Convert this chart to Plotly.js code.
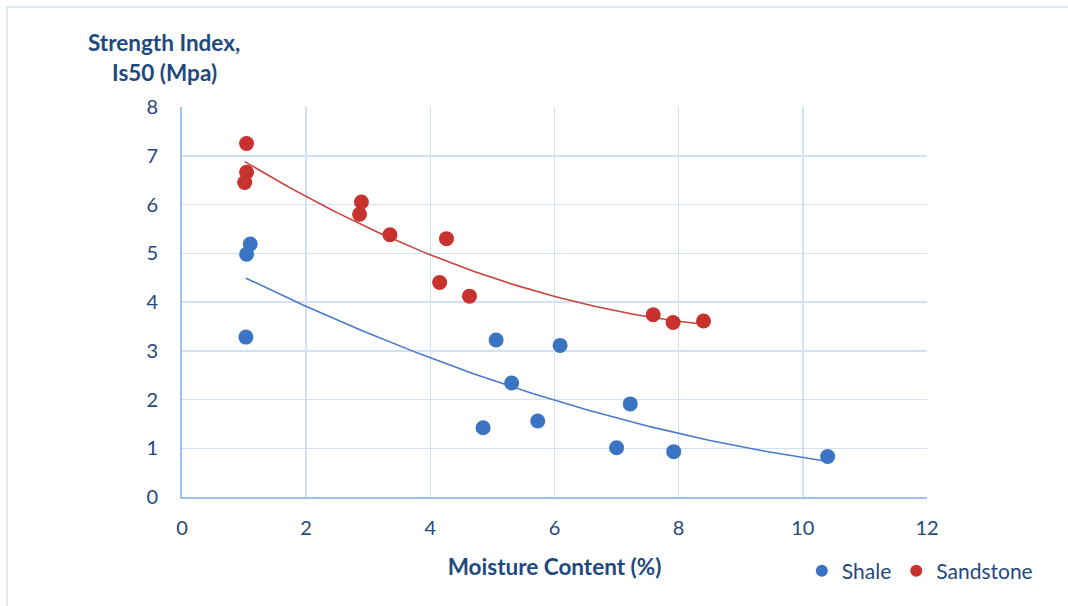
<!DOCTYPE html>
<html>
<head>
<meta charset="utf-8">
<script src="https://cdn.plot.ly/plotly-3.0.1.min.js"></script>
<style>
  html, body { margin: 0; padding: 0; background: #ffffff; }
  #chart { width: 1068px; height: 606px; }
</style>
</head>
<body>
<div id="chart"></div>
<script>
// ---- Data ----
var shaleX = [1.10, 1.04, 1.03, 5.06, 5.31, 4.85, 5.73, 6.09, 7.22, 7.00, 7.92, 10.40];
var shaleY = [5.19, 4.98, 3.28, 3.22, 2.34, 1.42, 1.56, 3.11, 1.91, 1.01, 0.93, 0.83];

var sandX = [1.04, 1.04, 1.01, 2.89, 2.86, 3.35, 4.26, 4.15, 4.63, 7.59, 7.91, 8.40];
var sandY = [7.25, 6.66, 6.45, 6.05, 5.80, 5.38, 5.30, 4.40, 4.12, 3.74, 3.58, 3.61];

var seriesNames = ['Shale', 'Sandstone'];
var xTicks = [0, 2, 4, 6, 8, 10, 12];
var yTicks = [0, 1, 2, 3, 4, 5, 6, 7, 8];

// ---- Quadratic least-squares trendline computed from the data ----
function polyFit2(xs, ys) {
  var n = xs.length, s = [0,0,0,0,0], t = [0,0,0];
  for (var i = 0; i < n; i++) {
    var x = xs[i], y = ys[i], p = 1;
    for (var k = 0; k < 5; k++) { s[k] += p; if (k < 3) t[k] += p * y; p *= x; }
  }
  var A = [[s[0], s[1], s[2], t[0]], [s[1], s[2], s[3], t[1]], [s[2], s[3], s[4], t[2]]];
  for (var c = 0; c < 3; c++) {
    var piv = c;
    for (var r = c + 1; r < 3; r++) if (Math.abs(A[r][c]) > Math.abs(A[piv][c])) piv = r;
    var tmp = A[c]; A[c] = A[piv]; A[piv] = tmp;
    for (var r2 = 0; r2 < 3; r2++) {
      if (r2 === c) continue;
      var f = A[r2][c] / A[c][c];
      for (var k2 = c; k2 < 4; k2++) A[r2][k2] -= f * A[c][k2];
    }
  }
  return [A[0][3] / A[0][0], A[1][3] / A[1][1], A[2][3] / A[2][2]];
}
function trend(xs, ys) {
  var c = polyFit2(xs, ys);
  var lo = Math.min.apply(null, xs), hi = Math.max.apply(null, xs);
  var tx = [], ty = [];
  for (var i = 0; i <= 100; i++) {
    var x = lo + (hi - lo) * i / 100;
    tx.push(x); ty.push(c[0] + c[1] * x + c[2] * x * x);
  }
  return {x: tx, y: ty};
}
var shaleT = trend(shaleX, shaleY);
var sandT = trend(sandX, sandY);

var blue = '#3A74C2', red = '#C7322F';
var textColor = '#1F497D';
var font = 'Lato, "Open Sans", sans-serif';

var traces = [
  {x: shaleT.x, y: shaleT.y, mode: 'lines', line: {color: '#4A7BC8', width: 1.6}, showlegend: false, hoverinfo: 'skip'},
  {x: sandT.x, y: sandT.y, mode: 'lines', line: {color: '#C9433E', width: 1.6}, showlegend: false, hoverinfo: 'skip'},
  {x: shaleX, y: shaleY, mode: 'markers', type: 'scatter', name: seriesNames[0],
   marker: {color: blue, size: 15, line: {width: 0}}},
  {x: sandX, y: sandY, mode: 'markers', type: 'scatter', name: seriesNames[1],
   marker: {color: red, size: 15, line: {width: 0}}}
];

var layout = {
  width: 1068, height: 606,
  margin: {l: 182, r: 141, t: 107, b: 109},
  paper_bgcolor: '#ffffff', plot_bgcolor: '#ffffff',
  font: {family: font, color: textColor, size: 20},
  showlegend: true,
  legend: {orientation: 'h', x: 0.832, xanchor: 'left', y: -0.19, yanchor: 'middle',
           font: {size: 21, color: textColor, family: font}, itemsizing: 'constant',
           bgcolor: 'rgba(0,0,0,0)', itemwidth: 30, tracegroupgap: 0},
  xaxis: {range: [0, 12], tickvals: xTicks, ticktext: xTicks.map(String), showgrid: true,
          gridcolor: '#D3E1F4', gridwidth: 1.5, zeroline: false, showline: true,
          linecolor: '#A3C1E8', linewidth: 2, ticks: '', ticklabelstandoff: 12,
          tickfont: {size: 20, color: textColor, family: font},
          title: {text: 'Moisture Content (%)', font: {size: 22.5, color: textColor, family: font, weight: 'bold'}, standoff: 21}},
  yaxis: {range: [0, 8], tickvals: yTicks, ticktext: yTicks.map(String), showgrid: true,
          gridcolor: '#D3E1F4', gridwidth: 1.5, zeroline: false, showline: true,
          linecolor: '#A3C1E8', linewidth: 2, ticks: '', ticklabelstandoff: 18,
          tickfont: {size: 20, color: textColor, family: font}},
  annotations: [
    {text: '<b>Strength Index,</b>', xref: 'paper', yref: 'paper', x: (163.5 - 182) / 745, y: (497 - 43) / 390,
     xanchor: 'center', yanchor: 'middle', showarrow: false, font: {size: 22.5, color: textColor, family: font}},
    {text: '<b>Is50 (Mpa)</b>', xref: 'paper', yref: 'paper', x: (164 - 182) / 745, y: (497 - 72) / 390,
     xanchor: 'center', yanchor: 'middle', showarrow: false, font: {size: 22.5, color: textColor, family: font}}
  ],
  shapes: [
    {type: 'rect', xref: 'paper', yref: 'paper', x0: (7 - 182) / 745, x1: 1.5, y0: -0.6, y1: (497 - 7) / 390,
     line: {color: '#D3E1F4', width: 1.5}, fillcolor: 'rgba(0,0,0,0)', layer: 'below'}
  ]
};

Plotly.newPlot('chart', traces, layout, {displayModeBar: false, staticPlot: true});
</script>
</body>
</html>
